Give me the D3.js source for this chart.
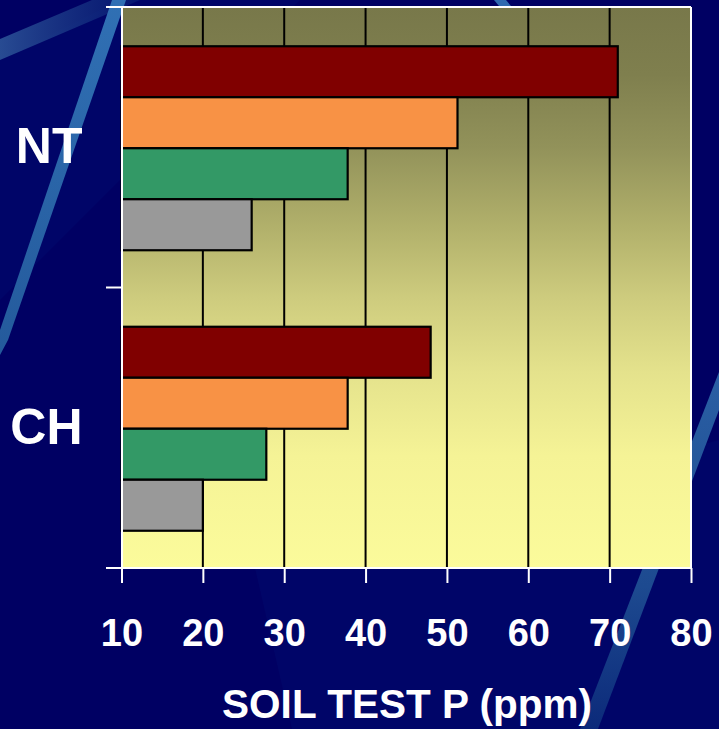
<!DOCTYPE html>
<html>
<head>
<meta charset="utf-8">
<script src="https://cdn.jsdelivr.net/npm/d3@7"></script>
<style>
  html, body { margin: 0; padding: 0; background: #000063; }
  svg { display: block; }
  text { font-family: "Liberation Sans", Arial, sans-serif; font-weight: bold; fill: #ffffff; }
</style>
</head>
<body>
<svg id="chart" width="719" height="729"></svg>
<script>
// Soil test P (ppm) by tillage system
const categories = ["NT", "CH"];
const seriesNames = ["s1", "s2", "s3", "s4"];
const seriesColors = ["#800000", "#f89245", "#339966", "#999999"];
const valuesNT = [71, 51.3, 37.8, 26];
const valuesCH = [48, 37.8, 27.8, 20];
const xTicks = [10, 20, 30, 40, 50, 60, 70, 80];
const gridTicks = [20, 30, 40, 50, 60, 70];
const xTitle = "SOIL TEST P (ppm)";

const rows = [
  { cat: "NT", values: valuesNT },
  { cat: "CH", values: valuesCH }
];

const W = 719, H = 729;
const svg = d3.select("#chart");
const defs = svg.append("defs");

// ---------- slide background ----------
svg.append("rect").attr("width", W).attr("height", H).attr("fill", "#000063");

// faint lighter facets
const facet = d3.line();
svg.append("path")
  .attr("d", facet([[0, 60], [120, 0], [300, 0], [0, 300]]) + "Z")
  .attr("fill", "#00076b").attr("opacity", 0.7);
svg.append("path")
  .attr("d", facet([[255, 568], [719, 440], [719, 729], [292, 729]]) + "Z")
  .attr("fill", "#00086d").attr("opacity", 0.6);

// streak gradients
const g1 = defs.append("linearGradient").attr("id", "streakA")
  .attr("x1", 0).attr("y1", 1).attr("x2", 0).attr("y2", 0);
g1.append("stop").attr("offset", 0).attr("stop-color", "#245a9c");
g1.append("stop").attr("offset", 1).attr("stop-color", "#3070b4");

const g2 = defs.append("linearGradient").attr("id", "streakB")
  .attr("x1", 0).attr("y1", 0).attr("x2", 1).attr("y2", 0);
g2.append("stop").attr("offset", 0).attr("stop-color", "#2a4f95").attr("stop-opacity", 0.95);
g2.append("stop").attr("offset", 1).attr("stop-color", "#0a2277").attr("stop-opacity", 0.6);

const g3 = defs.append("linearGradient").attr("id", "streakC")
  .attr("x1", 0).attr("y1", 0).attr("x2", 0).attr("y2", 1);
g3.append("stop").attr("offset", 0).attr("stop-color", "#2a5fa4");
g3.append("stop").attr("offset", 0.6).attr("stop-color", "#1d4a90");
g3.append("stop").attr("offset", 1).attr("stop-color", "#0c2a7a");

// wide faint band, top-left
svg.append("path")
  .attr("d", facet([[0, 39], [92, 0], [140, 0], [0, 60]]) + "Z")
  .attr("fill", "url(#streakB)");
// bright streak, left
svg.append("path")
  .attr("d", facet([[112, 0], [126, 0], [8, 340], [0, 355], [0, 330]]) + "Z")
  .attr("fill", "url(#streakA)");
// short streak, top centre
svg.append("path")
  .attr("d", facet([[494, 0], [506, 0], [516, 12], [504, 12]]) + "Z")
  .attr("fill", "#2f6ab0");
// streak, right
svg.append("path")
  .attr("d", facet([[719, 372], [719, 410], [598, 729], [580, 729]]) + "Z")
  .attr("fill", "url(#streakC)");

// ---------- chart ----------
const x = d3.scaleLinear().domain([10, 80]).range([121.5, 691]);
const y = d3.scaleBand().domain(categories).range([7, 568]).paddingInner(0).paddingOuter(0);
const yInner = d3.scaleBand().domain(seriesNames).range([1, y.bandwidth() + 1])
  .paddingInner(0).paddingOuter(0.75);
const color = d3.scaleOrdinal().domain(seriesNames).range(seriesColors);

// plot area gradient
const pg = defs.append("linearGradient").attr("id", "plotBg")
  .attr("x1", 0).attr("y1", 0).attr("x2", 0).attr("y2", 1);
[[0, "#78784a"], [0.12, "#7f7f4e"], [0.25, "#92925a"], [0.4, "#b3b26c"],
 [0.52, "#cecc7e"], [0.65, "#e4e28c"], [0.8, "#f5f396"], [1, "#fbfb9b"]]
  .forEach(([o, c]) => pg.append("stop").attr("offset", o).attr("stop-color", c));

svg.append("rect")
  .attr("x", x(10)).attr("y", y.range()[0])
  .attr("width", x(80) - x(10)).attr("height", y.range()[1] - y.range()[0])
  .attr("fill", "url(#plotBg)");

// vertical gridlines
svg.append("g").selectAll("line").data(gridTicks).join("line")
  .attr("x1", d => x(d)).attr("x2", d => x(d))
  .attr("y1", y.range()[0]).attr("y2", y.range()[1])
  .attr("stroke", "#000").attr("stroke-width", 2);

// bars
const groups = svg.append("g").selectAll("g").data(rows).join("g")
  .attr("transform", d => `translate(0,${y(d.cat)})`);
groups.selectAll("rect")
  .data(d => d.values.map((v, i) => ({ key: seriesNames[i], value: v })))
  .join("rect")
  .attr("x", x(10))
  .attr("y", d => yInner(d.key))
  .attr("width", d => x(d.value) - x(10))
  .attr("height", yInner.bandwidth())
  .attr("fill", d => color(d.key))
  .attr("stroke", "#000").attr("stroke-width", 2.2);

// white frame: top and right edges
svg.append("line")
  .attr("x1", 106).attr("x2", x(80)).attr("y1", y.range()[0]).attr("y2", y.range()[0])
  .attr("stroke", "#fff").attr("stroke-width", 2);
svg.append("line")
  .attr("x1", x(80)).attr("x2", x(80)).attr("y1", y.range()[0]).attr("y2", y.range()[1])
  .attr("stroke", "#fff").attr("stroke-width", 2);

// x axis
const xAxis = d3.axisBottom(x).tickValues(xTicks).tickSize(15).tickPadding(36)
  .tickFormat(d3.format("d"));
const gx = svg.append("g").attr("transform", `translate(0,${y.range()[1]})`).call(xAxis);
gx.select(".domain").attr("stroke", "#fff").attr("stroke-width", 2)
  .attr("d", `M${106},0H${x(80)}`);
gx.selectAll(".tick line").attr("stroke", "#fff").attr("stroke-width", 2);
gx.selectAll(".tick text")
  .style("font-family", '"Liberation Sans", Arial, sans-serif')
  .style("font-weight", "bold").style("font-size", "38px").attr("fill", "#fff");

// y axis (category labels)
const yAxis = d3.axisLeft(y).tickSize(0).tickPadding(39);
const gy = svg.append("g").attr("transform", `translate(${x(10)},0)`).call(yAxis);
gy.select(".domain").attr("stroke", "#fff").attr("stroke-width", 2);
gy.selectAll(".tick text")
  .style("font-family", '"Liberation Sans", Arial, sans-serif')
  .style("font-weight", "bold").style("font-size", "50px").attr("fill", "#fff");

// y tick marks at category boundaries
const yBounds = categories.map(c => y(c)).concat([y.range()[1]]);
svg.append("g").selectAll("line").data(yBounds).join("line")
  .attr("x1", 106).attr("x2", x(10))
  .attr("y1", d => d).attr("y2", d => d)
  .attr("stroke", "#fff").attr("stroke-width", 2);

// axis title
svg.append("text")
  .attr("x", 407).attr("y", 718)
  .attr("text-anchor", "middle")
  .style("font-size", "40.5px")
  .text(xTitle);
</script>
</body>
</html>
